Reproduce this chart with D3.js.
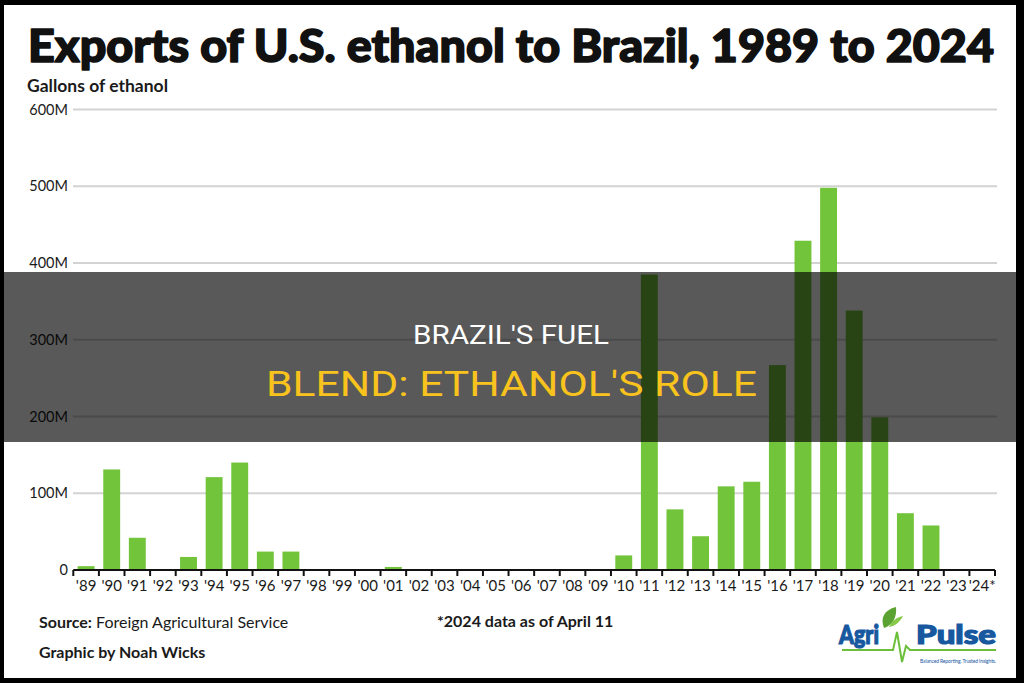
<!DOCTYPE html>
<html>
<head>
<meta charset="utf-8">
<script src="https://cdn.jsdelivr.net/npm/d3@7"></script>
<style>
  html, body { margin: 0; padding: 0; background: #000; }
  svg { display: block; }
</style>
</head>
<body>
<svg id="chart" width="1024" height="683"></svg>
<script>
// ** Data **
const years = ["'89","'90","'91","'92","'93","'94","'95","'96","'97","'98","'99","'00",
  "'01","'02","'03","'04","'05","'06","'07","'08","'09","'10","'11","'12",
  "'13","'14","'15","'16","'17","'18","'19","'20","'21","'22","'23","'24*"];
// gallons, in millions
const gallons = [5,131,42,0,17,121,140,24,24,0,0,0,
  4,0,0,0,0,0,0,0,0,19,385,79,
  44,109,115,267,429,498,338,199,74,58,0,0];
const yTicks = [0,100,200,300,400,500,600];
const yTickLabels = ["0","100M","200M","300M","400M","500M","600M"];

// ** Constants **
const barColor = "#72c43a";
const gridColor = "#d3d3d3";
const textColor = "#1a1a1a";
const overlayTop = 272, overlayBottom = 442;

const svg = d3.select("#chart");

// white card inside the black frame
svg.append("rect")
  .attr("x", 4).attr("y", 5)
  .attr("width", 1012).attr("height", 673)
  .attr("fill", "#fff");

// title (stroke thickens it, Lato Black may be missing)
svg.append("text")
  .attr("x", 28).attr("y", 62)
  .attr("font-family", "Lato, sans-serif")
  .attr("font-weight", 900)
  .attr("font-size", 45)
  .attr("textLength", 966)
  .attr("lengthAdjust", "spacingAndGlyphs")
  .attr("fill", "#111")
  .attr("stroke", "#111")
  .attr("stroke-width", 1.6)
  .attr("stroke-linejoin", "round")
  .text("Exports of U.S. ethanol to Brazil, 1989 to 2024");

svg.append("text")
  .attr("x", 27).attr("y", 92)
  .attr("font-family", "Lato, sans-serif")
  .attr("font-weight", 700)
  .attr("font-size", 16.5)
  .attr("textLength", 141)
  .attr("lengthAdjust", "spacingAndGlyphs")
  .attr("fill", textColor)
  .text("Gallons of ethanol");

// ** Scales **
const x = d3.scaleBand()
  .domain(years)
  .range([73.3, 995])
  .paddingInner(0.34)
  .paddingOuter(0.17);

const y = d3.scaleLinear()
  .domain([0, 600])
  .range([570, 109.5]);

// gridlines + y labels
const grid = svg.append("g");
grid.selectAll("line")
  .data(yTicks.filter(d => d > 0))
  .join("line")
  .attr("x1", 73).attr("x2", 997)
  .attr("y1", d => y(d)).attr("y2", d => y(d))
  .attr("stroke", gridColor)
  .attr("stroke-width", 2);

grid.selectAll("text")
  .data(yTicks)
  .join("text")
  .attr("x", 68)
  .attr("y", d => y(d))
  .attr("dy", "0.35em")
  .attr("text-anchor", "end")
  .attr("font-family", "Lato, sans-serif")
  .attr("font-size", 14.5)
  .attr("fill", textColor)
  .text((d, i) => yTickLabels[i]);

// bars
svg.append("g")
  .selectAll("rect")
  .data(years.map((yr, i) => ({ yr: yr, v: gallons[i] })))
  .join("rect")
  .attr("x", d => x(d.yr))
  .attr("y", d => y(d.v))
  .attr("width", x.bandwidth())
  .attr("height", d => y(0) - y(d.v))
  .attr("fill", barColor);

// x axis: labels centered on bands, ticks on band boundaries
const xAxis = svg.append("g")
  .attr("transform", "translate(0," + y(0) + ")")
  .call(d3.axisBottom(x).tickSize(0).tickPadding(10));
xAxis.select(".domain").remove();
xAxis.selectAll("text")
  .attr("font-family", "Lato, sans-serif")
  .attr("font-size", 15)
  .attr("fill", textColor);

const step = x.step();
const edges = d3.range(years.length + 1).map(i => x.range()[0] + i * step);
xAxis.selectAll("line.edge")
  .data(edges)
  .join("line")
  .attr("class", "edge")
  .attr("x1", d => d).attr("x2", d => d)
  .attr("y1", 0).attr("y2", 6)
  .attr("stroke", "#111")
  .attr("stroke-width", 2);
xAxis.append("line")
  .attr("x1", x.range()[0]).attr("x2", x.range()[1])
  .attr("y1", 0).attr("y2", 0)
  .attr("stroke", "#111")
  .attr("stroke-width", 2);

// footer
const foot = svg.append("g")
  .attr("font-family", "Lato, sans-serif")
  .attr("font-size", 16)
  .attr("fill", textColor);
const src = foot.append("text").attr("x", 39).attr("y", 628);
src.append("tspan").attr("font-weight", 700).text("Source:");
src.append("tspan").text(" Foreign Agricultural Service");
foot.append("text")
  .attr("x", 437).attr("y", 627)
  .attr("font-weight", 700)
  .text("*2024 data as of April 11");
foot.append("text")
  .attr("x", 39).attr("y", 658)
  .attr("font-weight", 700)
  .text("Graphic by Noah Wicks");

// Agri-Pulse logo, roughly
const logo = svg.append("g");
logo.append("path")
  .attr("d", "M842,650 L893,650 L897,632 L902,662 L906,646 L910,650 L996,650")
  .attr("fill", "none")
  .attr("stroke", "#6cbf3a")
  .attr("stroke-width", 2);
logo.append("path")
  .attr("d", "M884,628 C880,618 884,610 896,607 C897,617 893,625 884,628 Z")
  .attr("fill", "#5aa332");
logo.append("path")
  .attr("d", "M889,627 C892,620 898,617 903,616 C900,622 895,626 889,627 Z")
  .attr("fill", "#86c94a");
logo.selectAll("text.brand")
  .data([{ t: "Agri", x: 839, w: 40 }, { t: "Pulse", x: 916, w: 80 }])
  .join("text")
  .attr("class", "brand")
  .attr("x", d => d.x).attr("y", 644)
  .attr("font-family", "Lato, sans-serif")
  .attr("font-weight", 900)
  .attr("font-size", 26)
  .attr("textLength", d => d.w)
  .attr("lengthAdjust", "spacingAndGlyphs")
  .attr("fill", "#17589f")
  .attr("stroke", "#17589f")
  .attr("stroke-width", 1.2)
  .text(d => d.t);
logo.append("text")
  .attr("x", 920).attr("y", 663)
  .attr("font-family", "Lato, sans-serif")
  .attr("font-size", 5)
  .attr("textLength", 76)
  .attr("fill", "#17589f")
  .text("Balanced Reporting. Trusted Insights.");

// dark banner across the chart
svg.append("rect")
  .attr("x", 0).attr("y", overlayTop)
  .attr("width", 1024).attr("height", overlayBottom - overlayTop)
  .attr("fill", "rgba(0,0,0,0.65)");

svg.append("text")
  .attr("x", 511).attr("y", 344)
  .attr("text-anchor", "middle")
  .attr("font-family", "Roboto, sans-serif")
  .attr("font-size", 26)
  .attr("textLength", 196)
  .attr("lengthAdjust", "spacingAndGlyphs")
  .attr("fill", "#fff")
  .text("BRAZIL'S FUEL");
svg.append("text")
  .attr("x", 511.5).attr("y", 396)
  .attr("text-anchor", "middle")
  .attr("font-family", "Roboto, sans-serif")
  .attr("font-size", 35)
  .attr("textLength", 491)
  .attr("lengthAdjust", "spacingAndGlyphs")
  .attr("fill", "#f9c31d")
  .text("BLEND: ETHANOL'S ROLE");
</script>
</body>
</html>
